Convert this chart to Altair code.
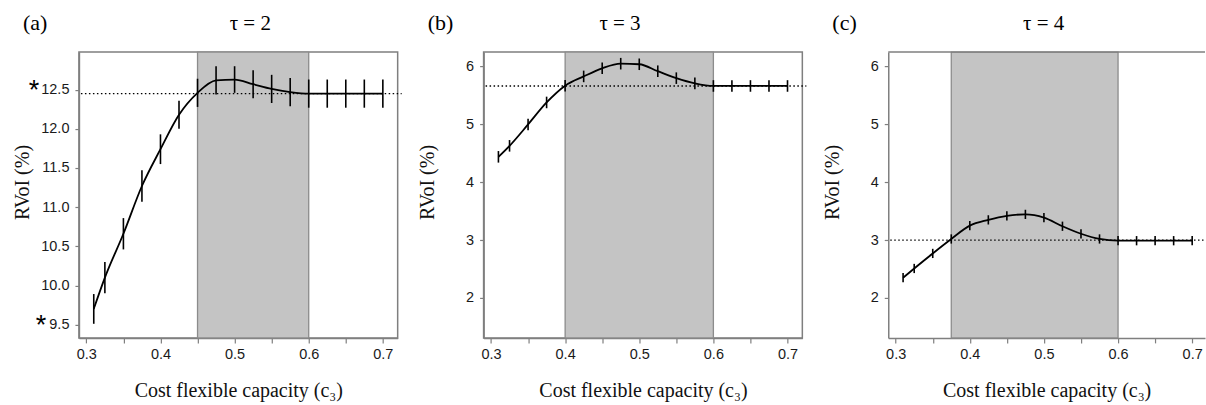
import altair as alt
import pandas as pd

# Cost of flexible capacity (c3) at which RVoI was evaluated
C3 = [0.31, 0.325, 0.35, 0.375, 0.4, 0.425, 0.45, 0.475, 0.5,
      0.525, 0.55, 0.575, 0.6, 0.625, 0.65, 0.675, 0.7]

# RVoI (%) means and error half-widths per planning horizon tau
RVOI_TAU2 = [9.70, 10.10, 10.66, 11.27, 11.74, 12.18, 12.46, 12.62, 12.63,
             12.57, 12.51, 12.47, 12.45, 12.45, 12.45, 12.45, 12.45]
ERR_TAU2 = [0.19, 0.20, 0.20, 0.20, 0.19, 0.18, 0.18, 0.18, 0.17,
            0.18, 0.18, 0.18, 0.18, 0.18, 0.18, 0.18, 0.18]

RVOI_TAU3 = [4.44, 4.63, 5.00, 5.38, 5.67, 5.83, 5.97, 6.05, 6.04,
             5.92, 5.80, 5.71, 5.665, 5.665, 5.665, 5.665, 5.665]
ERR_TAU3 = [0.10] * 17

RVOI_TAU4 = [2.35, 2.51, 2.77, 3.02, 3.25, 3.35, 3.42, 3.445, 3.39,
             3.24, 3.11, 3.02, 2.99, 2.99, 2.99, 2.99, 2.99]
ERR_TAU4 = [0.08] * 17

# Plateau level (dotted reference) and shaded c3 interval per panel
REF_LEVELS = [12.45, 5.665, 3.0]
SHADE_RANGES = [(0.45, 0.6), (0.4, 0.6), (0.375, 0.6)]

PANEL_TAGS = ["(a)", "(b)", "(c)"]
PANEL_TITLES = ["τ = 2", "τ = 3", "τ = 4"]

X_TICKS = [0.3, 0.35, 0.4, 0.45, 0.5, 0.55, 0.6, 0.65, 0.7]
Y_TICKS_TAU2 = [9.5, 10.0, 10.5, 11.0, 11.5, 12.0, 12.5]
Y_TICKS_OTHER = [2, 3, 4, 5, 6]
STARRED_TAU2 = [12.5, 9.5]

SERIF = "Liberation Serif"
SANS = "Liberation Sans"
GREY = "#7f7f7f"
HEIGHT = 286


def make_panel(tag, title, vals, errs, ref_level, shade, ydom, yticks, yfmt,
               width, xdom, title_dx, starred=(), open_right=False):
    df = pd.DataFrame({
        "c3": C3,
        "rvoi": vals,
        "lo": [v - e for v, e in zip(vals, errs)],
        "hi": [v + e for v, e in zip(vals, errs)],
    })
    xscale = alt.Scale(domain=xdom, nice=False, zero=False)
    yscale = alt.Scale(domain=ydom, nice=False, zero=False)
    xaxis = alt.Axis(
        values=X_TICKS,
        labelExpr="round(datum.value * 100) % 10 == 0 ? format(datum.value, '.1f') : ''",
        title="Cost flexible capacity (c₃)",
        titleFont=SERIF, titleFontSize=20, titleFontWeight="normal",
        titleColor="#111111", titleBaseline="alphabetic", titleY=59,
        labelFont=SANS, labelFontSize=14.5, labelColor="#1a1a1a", labelPadding=5,
        tickColor=GREY, tickSize=5, tickWidth=1.2,
        domainColor=GREY, domainWidth=1.5, grid=False,
    )
    yaxis = alt.Axis(
        values=yticks, format=yfmt,
        title="RVoI (%)",
        titleFont=SERIF, titleFontSize=20, titleFontWeight="normal",
        titleColor="#111111", titleAngle=270, titleAlign="center",
        titleBaseline="middle", titleX=-56, titleY=130,
        labelFont=SANS, labelFontSize=14.5, labelColor="#1a1a1a", labelPadding=6,
        tickColor=GREY, tickSize=4, tickWidth=1.2,
        domainColor=GREY, domainWidth=1.5, grid=False,
    )

    def xenc(field):
        return alt.X(f"{field}:Q", scale=xscale, axis=xaxis)

    def yenc(field):
        return alt.Y(f"{field}:Q", scale=yscale, axis=yaxis)

    shade_df = pd.DataFrame({"lo": [shade[0]], "hi": [shade[1]]})
    band = alt.Chart(shade_df).mark_rect(
        fill="#c4c4c4", stroke="#8c8c8c", strokeWidth=1.3
    ).encode(x=xenc("lo"), x2="hi:Q", y=alt.value(0), y2=alt.value(HEIGHT))

    ref_df = pd.DataFrame({"level": [ref_level]})
    ref = alt.Chart(ref_df).mark_rule(
        color="black", strokeWidth=1.4, strokeDash=[1.5, 2.5], clip=False
    ).encode(
        y=yenc("level"),
        x=alt.value(2),
        x2=alt.value(width if open_right else width + 4),
    )

    bars = alt.Chart(df).mark_rule(color="black", strokeWidth=1.6).encode(
        x=xenc("c3"), y=yenc("lo"), y2="hi:Q"
    )
    line = alt.Chart(df).mark_line(
        color="black", strokeWidth=1.8, interpolate="monotone"
    ).encode(x=xenc("c3"), y=yenc("rvoi"))

    tag_txt = alt.Chart(pd.DataFrame({"t": [tag]})).mark_text(
        font=SERIF, fontSize=22, align="left", baseline="alphabetic", color="black"
    ).encode(x=alt.value(-56), y=alt.value(-22), text="t:N")
    title_txt = alt.Chart(pd.DataFrame({"t": [title]})).mark_text(
        font=SERIF, fontSize=21, align="center", baseline="alphabetic", color="black"
    ).encode(x=alt.value(width / 2 + title_dx), y=alt.value(-22), text="t:N")

    layers = [band, ref, bars, line, tag_txt, title_txt]

    # asterisks beside the starred tick labels
    star_offsets = {12.5: -45, 9.5: -38}
    for s in starred:
        star = alt.Chart(pd.DataFrame({"v": [s], "t": ["*"]})).mark_text(
            font=SANS, fontSize=27, align="center", baseline="alphabetic",
            dy=9, color="black"
        ).encode(x=alt.value(star_offsets[s]), y=yenc("v"), text="t:N")
        layers.append(star)

    if open_right:
        top_edge = alt.Chart(pd.DataFrame({"z": [0]})).mark_rule(
            color=GREY, strokeWidth=1.5
        ).encode(x=alt.value(0), x2=alt.value(width), y=alt.value(0))
        layers.append(top_edge)

    chart = alt.layer(*layers).properties(width=width, height=HEIGHT)
    if open_right:
        chart = chart.properties(view=alt.ViewBackground(strokeOpacity=0))
    return chart


pa = make_panel(PANEL_TAGS[0], PANEL_TITLES[0], RVOI_TAU2, ERR_TAU2,
                REF_LEVELS[0], SHADE_RANGES[0], [9.33, 12.98], Y_TICKS_TAU2, ".1f",
                319, [0.29, 0.72], 12, starred=STARRED_TAU2)
pb = make_panel(PANEL_TAGS[1], PANEL_TITLES[1], RVOI_TAU3, ERR_TAU3,
                REF_LEVELS[1], SHADE_RANGES[1], [1.31, 6.25], Y_TICKS_OTHER, "d",
                319, [0.29, 0.72], -23)
pc = make_panel(PANEL_TAGS[2], PANEL_TITLES[2], RVOI_TAU4, ERR_TAU4,
                REF_LEVELS[2], SHADE_RANGES[2], [1.31, 6.25], Y_TICKS_OTHER, "d",
                317, [0.29, 0.29 + 0.43 * 317 / 319], -3, open_right=True)

chart = alt.hconcat(pa, pb, pc, spacing=86, bounds="flush").properties(
    padding={"left": 12, "top": 11, "right": 0, "bottom": 0},
    background="white",
).configure_view(stroke=GREY, strokeWidth=1.5, fill="white")

chart.save("out.html", embed_options={"renderer": "svg", "actions": False})
